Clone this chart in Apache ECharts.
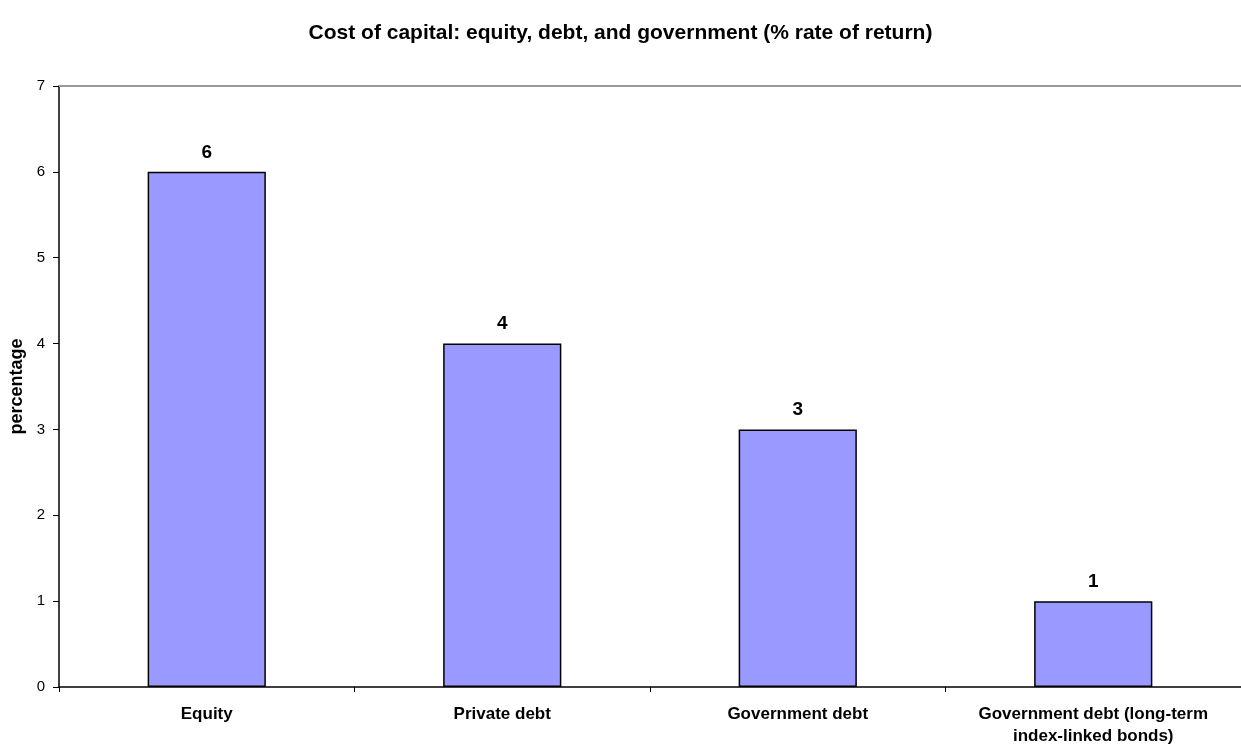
<!DOCTYPE html>
<html><head><meta charset="utf-8">
<script src="https://cdn.jsdelivr.net/npm/echarts@6/dist/echarts.min.js"></script>
<style>html,body{margin:0;padding:0;background:#fff}#c{width:1241px;height:744px}</style>
</head><body><div id="c"></div>
<script>
const categories = ["Equity", "Private debt", "Government debt", "Government debt (long-term\nindex-linked bonds)"];
const values = [6, 4, 3, 1];
const yTicks = {min: 0, max: 7, interval: 1};
const FONT = "Liberation Sans, Arial, sans-serif";
const chart = echarts.init(document.getElementById('c'), null, {renderer: 'canvas'});
chart.setOption({
  animation: false,
  title: {
    text: "Cost of capital: equity, debt, and government (% rate of return)",
    left: 'center', top: 18,
    textStyle: {fontFamily: FONT, fontSize: 21, fontWeight: 'bold', color: '#000'}
  },
  grid: {left: 59, right: 0, top: 86, bottom: 57, containLabel: false, outerBoundsMode: 'none'},
  xAxis: [{
    type: 'category', data: categories,
    axisLine: {lineStyle: {color: '#000', width: 1.5}},
    axisTick: {show: true, interval: 0, length: 5, lineStyle: {color: '#000'}},
    axisLabel: {interval: 0, fontFamily: FONT, fontSize: 17, fontWeight: 'bold', color: '#000', margin: 16, lineHeight: 22}
  }, {
    type: 'category', data: categories, position: 'top',
    axisLine: {show: true, lineStyle: {color: '#999', width: 2}},
    axisTick: {show: false}, axisLabel: {show: false}
  }],
  yAxis: {
    type: 'value', min: yTicks.min, max: yTicks.max, interval: yTicks.interval,
    name: 'percentage', nameLocation: 'middle', nameGap: 32, nameRotate: 90,
    nameTextStyle: {fontFamily: FONT, fontSize: 18, fontWeight: 'bold', color: '#000'},
    axisLine: {show: true, lineStyle: {color: '#000', width: 1.5}},
    axisTick: {show: true, length: 6, lineStyle: {color: '#000'}},
    axisLabel: {fontFamily: FONT, fontSize: 15, color: '#000', margin: 14},
    splitLine: {show: false}
  },
  series: [{
    type: 'bar', data: values, barWidth: '40%',
    itemStyle: {color: '#9999FF', borderColor: '#000', borderWidth: 1.5},
    label: {show: true, position: 'top', distance: 10, fontFamily: FONT, fontSize: 19, fontWeight: 'bold', color: '#000'}
  }]
});
</script></body></html>
